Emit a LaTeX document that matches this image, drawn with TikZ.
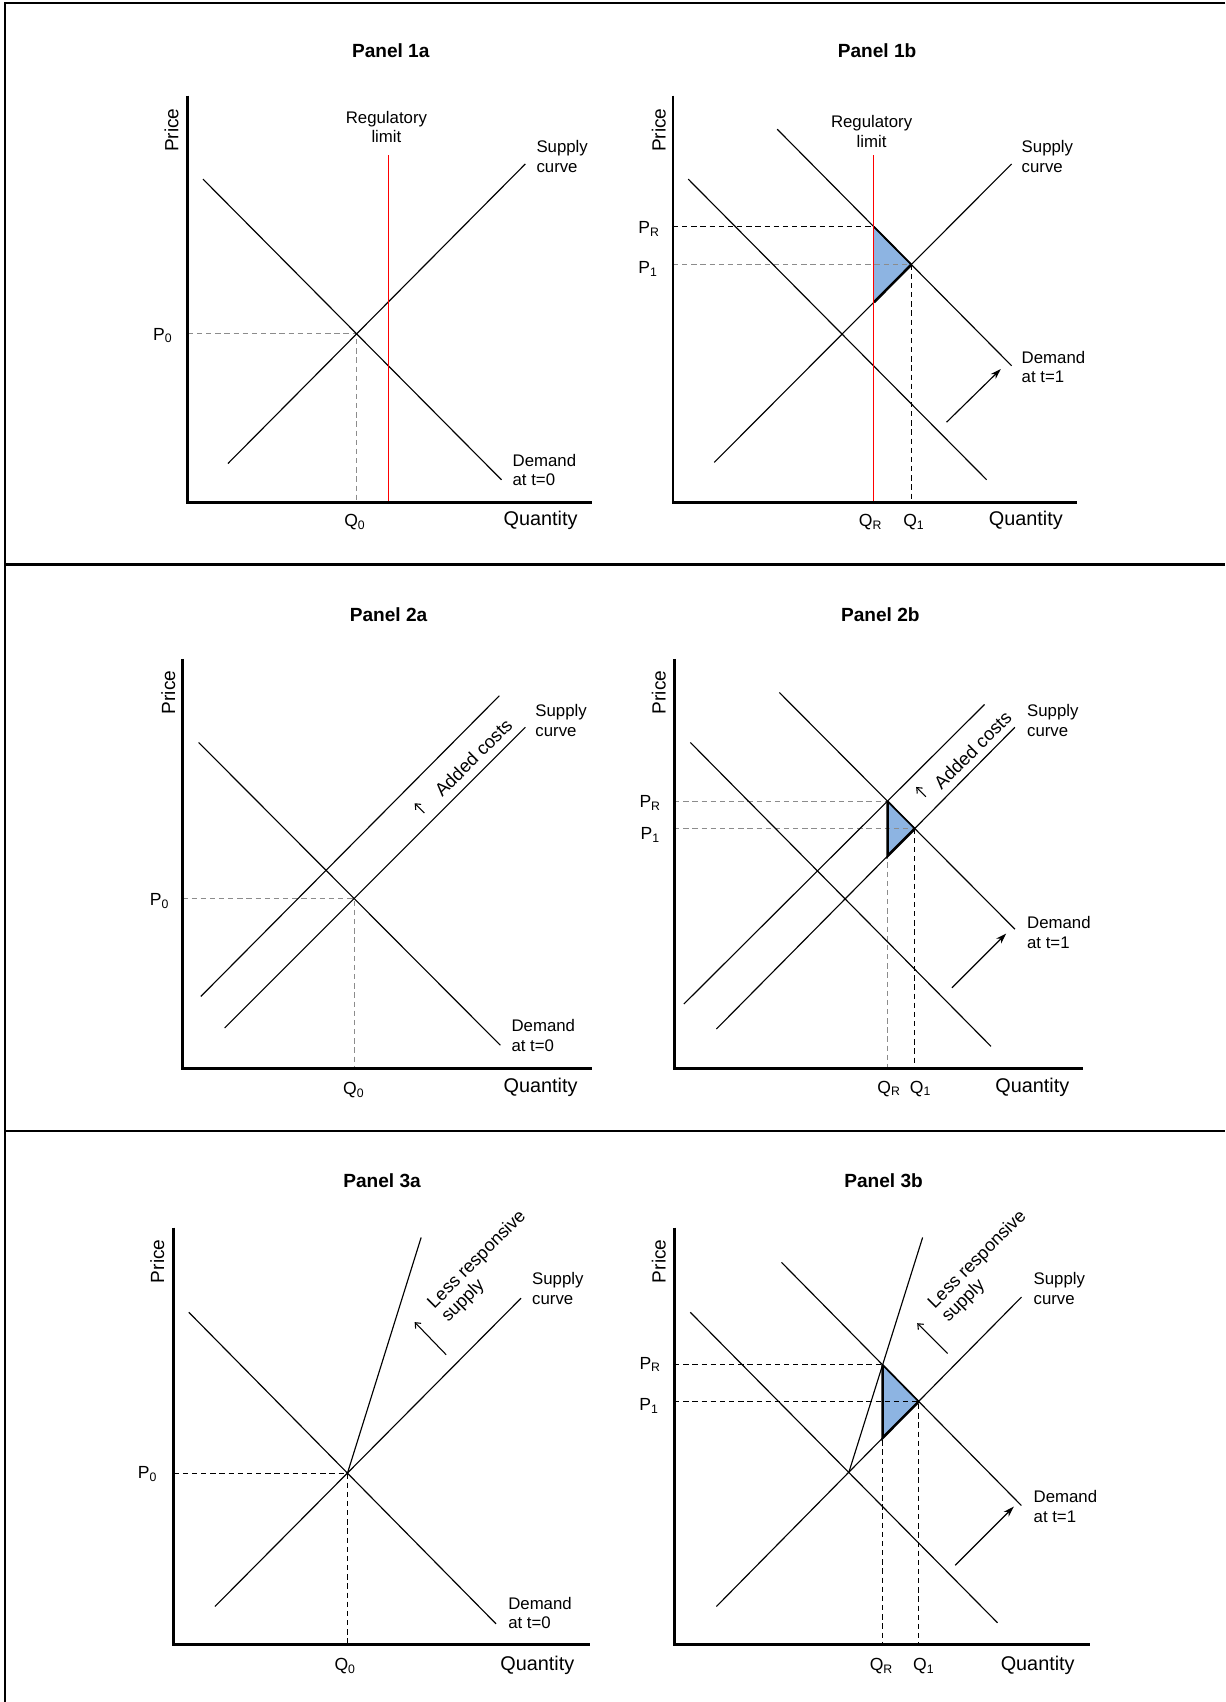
\documentclass[tikz,border=0pt]{standalone}
\usepackage{fontspec}
\setmainfont{Liberation Sans}
\usetikzlibrary{arrows.meta,calc}
\definecolor{tri}{RGB}{141,180,226}
\begin{document}
\begin{tikzpicture}[x=0.025cm,y=-0.025cm,
  curve/.style={line width=0.75pt},
  axisline/.style={line width=1.9pt},
  frameline/.style={line width=1.4pt},
  gdash/.style={draw=black!45,line width=0.6pt,dash pattern=on 3.5pt off 2.5pt},
  kdash/.style={draw=black,line width=0.7pt,dash pattern=on 3.5pt off 2.5pt},
  redline/.style={draw=red,line width=0.8pt},
  thickedge/.style={line width=1.7pt},
  bigarrow/.style={line width=0.75pt,-{Stealth[length=7pt,width=4.5pt]}},
  smallarrow/.style={line width=0.7pt,-{Straight Barb[length=3pt,width=5pt]}},
  ptitle/.style={font=\fontsize{12.5}{14}\selectfont\bfseries,inner sep=0},
  lbl/.style={font=\fontsize{11}{12.8}\selectfont,align=left,anchor=west,inner sep=0},
  clbl/.style={font=\fontsize{11}{12.8}\selectfont,align=center,inner sep=0},
  plbl/.style={font=\fontsize{11.5}{13}\selectfont,inner sep=0},
  qlbl/.style={font=\fontsize{13}{15}\selectfont,inner sep=0},
  pricelbl/.style={font=\fontsize{12.5}{14}\selectfont,rotate=90,inner sep=0},
  rotlbl/.style={font=\fontsize{11.8}{12.8}\selectfont,align=left,rotate=45,inner sep=0}
]
\useasboundingbox (0,0) rectangle (1129,1568);
% frame
\coordinate (fTL) at (5,3); \coordinate (fTR) at (1129,3);
\coordinate (fBL) at (5,1568);
\coordinate (fM1L) at (5,520); \coordinate (fM1R) at (1129,520);
\coordinate (fM2L) at (5,1042); \coordinate (fM2R) at (1129,1042);
\draw[frameline] (fTR) -- (fTL) -- (fBL);
\draw[frameline] (fM1L) -- (fM1R);
\draw[frameline] (fM2L) -- (fM2R);

% ================= Panel 1a
\coordinate (a1O) at (173,463); \coordinate (a1T) at (173,88); \coordinate (a1X) at (545,463);
\coordinate (a1d1) at (187,165); \coordinate (a1d2) at (462,442);
\coordinate (a1s1) at (210,427); \coordinate (a1s2) at (484,151);
\coordinate (a1E) at (intersection of a1d1--a1d2 and a1s1--a1s2);
\coordinate (a1r1) at (358,143); \coordinate (a1r2) at (358,463);
\draw[gdash] (a1E -| a1O) -- (a1E) -- (a1E |- a1O);
\draw[curve] (a1d1) -- (a1d2);
\draw[curve] (a1s1) -- (a1s2);
\draw[redline] (a1r1) -- (a1r2);
\draw[axisline] (a1T) -- (a1O) -- (a1X);
\node[ptitle] (a1title) at (360,47) {Panel 1a};
\node[pricelbl] (a1price) at (158,120) {Price};
\node[clbl] (a1reg) at (356,117) {Regulatory\\limit};
\node[lbl] (a1sup) at (494,144) {Supply\\curve};
\node[lbl] (a1dem) at (472,433) {Demand\\at t=0};
\node[plbl] (a1p0) at (150,309) {P\textsubscript{0}};
\node[plbl] (a1q0) at (327,481) {Q\textsubscript{0}};
\node[qlbl] (a1qty) at (498,479) {Quantity};

% ================= Panel 1b
\coordinate (b1O) at (620,463); \coordinate (b1T) at (620,88); \coordinate (b1X) at (992,463);
\coordinate (b1d01) at (634,165); \coordinate (b1d02) at (909,442);
\coordinate (b1d11) at (716,119); \coordinate (b1d12) at (932,337);
\coordinate (b1s1) at (658,426); \coordinate (b1s2) at (932,151);
\coordinate (b1r1) at (805,143); \coordinate (b1r2) at (805,463);
\coordinate (b1PR) at (intersection of b1r1--b1r2 and b1d11--b1d12);
\coordinate (b1E) at (intersection of b1s1--b1s2 and b1d11--b1d12);
\coordinate (b1LB) at (intersection of b1r1--b1r2 and b1s1--b1s2);
\fill[tri] (b1PR) -- (b1E) -- (b1LB) -- cycle;
\draw[kdash] (b1PR -| b1O) -- (b1PR);
\draw[gdash] (b1E -| b1O) -- (b1E);
\draw[kdash] (b1E) -- (b1E |- b1O);
\draw[curve] (b1d01) -- (b1d02);
\draw[curve] (b1d11) -- (b1d12);
\draw[curve] (b1s1) -- (b1s2);
\draw[line width=1.2pt] (b1PR) -- (b1E);
\draw[thickedge] (b1LB) -- (b1E);
\draw[redline] (b1r1) -- (b1r2);
\draw[axisline] (b1T) -- (b1O) -- (b1X);
\coordinate (b1a1) at (872,389); \coordinate (b1a2) at (922,340);
\draw[bigarrow] (b1a1) -- (b1a2);
\node[ptitle] (b1title) at (808,47) {Panel 1b};
\node[pricelbl] (b1price) at (607,120) {Price};
\node[clbl] (b1reg) at (803,121) {Regulatory\\limit};
\node[lbl] (b1sup) at (941,144) {Supply\\curve};
\node[lbl] (b1dem) at (941,338) {Demand\\at t=1};
\node[plbl] (b1pr) at (598,211) {P\textsubscript{R}};
\node[plbl] (b1p1) at (597,248) {P\textsubscript{1}};
\node[plbl] (b1qr) at (802,481) {Q\textsubscript{R}};
\node[plbl] (b1q1) at (842,481) {Q\textsubscript{1}};
\node[qlbl] (b1qty) at (945,479) {Quantity};

% ================= Panel 2a
\coordinate (a2O) at (168,984); \coordinate (a2T) at (168,607); \coordinate (a2X) at (545,984);
\coordinate (a2d1) at (183,684); \coordinate (a2d2) at (461,963);
\coordinate (a2s1) at (207,947); \coordinate (a2s2) at (484,670);
\coordinate (a2c1) at (185,918); \coordinate (a2c2) at (460,641);
\coordinate (a2E) at (intersection of a2d1--a2d2 and a2s1--a2s2);
\draw[gdash] (a2E -| a2O) -- (a2E) -- (a2E |- a2O);
\draw[curve] (a2d1) -- (a2d2);
\draw[curve] (a2s1) -- (a2s2);
\draw[curve] (a2c1) -- (a2c2);
\draw[axisline] (a2T) -- (a2O) -- (a2X);
\coordinate (a2a1) at (391,749); \coordinate (a2a2) at (382,740);
\draw[smallarrow] (a2a1) -- (a2a2);
\node[ptitle] (a2title) at (358,566) {Panel 2a};
\node[pricelbl] (a2price) at (155,638) {Price};
\node[rotlbl,font=\fontsize{12}{13}\selectfont] (a2add) at (436,698) {Added costs};
\node[lbl] (a2sup) at (493,664) {Supply\\curve};
\node[lbl] (a2dem) at (471,954) {Demand\\at t=0};
\node[plbl] (a2p0) at (147,830) {P\textsubscript{0}};
\node[plbl] (a2q0) at (326,1004) {Q\textsubscript{0}};
\node[qlbl] (a2qty) at (498,1002) {Quantity};

% ================= Panel 2b
\coordinate (b2O) at (621,984); \coordinate (b2T) at (621,607); \coordinate (b2X) at (998,984);
\coordinate (b2d01) at (636,684); \coordinate (b2d02) at (913,964);
\coordinate (b2d11) at (718,638); \coordinate (b2d12) at (935,856);
\coordinate (b2s1) at (660,948); \coordinate (b2s2) at (935,670);
\coordinate (b2c1) at (630,925); \coordinate (b2c2) at (907,649);
\coordinate (b2PR) at (intersection of b2c1--b2c2 and b2d11--b2d12);
\coordinate (b2E) at (intersection of b2s1--b2s2 and b2d11--b2d12);
\coordinate (b2V) at (b2PR |- b2O);
\coordinate (b2LB) at (intersection of b2PR--b2V and b2s1--b2s2);
\fill[tri] (b2PR) -- (b2E) -- (b2LB) -- cycle;
\draw[gdash] (b2PR -| b2O) -- (b2PR) -- (b2V);
\draw[gdash] (b2E -| b2O) -- (b2E);
\draw[kdash] (b2E) -- (b2E |- b2O);
\draw[curve] (b2d01) -- (b2d02);
\draw[curve] (b2d11) -- (b2d12);
\draw[curve] (b2s1) -- (b2s2);
\draw[curve] (b2c1) -- (b2c2);
\draw[line width=1.1pt] (b2PR) -- (b2E);
\draw[thickedge] (b2PR) -- (b2LB) -- (b2E);
\draw[axisline] (b2T) -- (b2O) -- (b2X);
\coordinate (b2a1) at (877,910); \coordinate (b2a2) at (927,860);
\draw[bigarrow] (b2a1) -- (b2a2);
\coordinate (b2s3) at (853,734); \coordinate (b2s4) at (844,725);
\draw[smallarrow] (b2s3) -- (b2s4);
\node[ptitle] (b2title) at (811,566) {Panel 2b};
\node[pricelbl] (b2price) at (607,638) {Price};
\node[rotlbl,font=\fontsize{12}{13}\selectfont] (b2add) at (896,691) {Added costs};
\node[lbl] (b2sup) at (946,664) {Supply\\curve};
\node[lbl] (b2dem) at (946,859) {Demand\\at t=1};
\node[plbl] (b2pr) at (599,740) {P\textsubscript{R}};
\node[plbl] (b2p1) at (599,769) {P\textsubscript{1}};
\node[plbl] (b2qr) at (819,1003) {Q\textsubscript{R}};
\node[plbl] (b2q1) at (848,1003) {Q\textsubscript{1}};
\node[qlbl] (b2qty) at (951,1002) {Quantity};

% ================= Panel 3a
\coordinate (a3O) at (160,1515); \coordinate (a3T) at (160,1131); \coordinate (a3X) at (544,1515);
\coordinate (a3d1) at (174,1209); \coordinate (a3d2) at (457,1496);
\coordinate (a3s1) at (198,1480); \coordinate (a3s2) at (480,1196);
\coordinate (a3E) at (intersection of a3d1--a3d2 and a3s1--a3s2);
\coordinate (a3st) at (388,1140);
\draw[kdash] (a3E -| a3O) -- (a3E) -- (a3E |- a3O);
\draw[curve] (a3d1) -- (a3d2);
\draw[curve] (a3s1) -- (a3s2);
\draw[curve] (a3E) -- (a3st);
\draw[axisline] (a3T) -- (a3O) -- (a3X);
\coordinate (a3a1) at (411,1248); \coordinate (a3a2) at (382,1218);
\draw[smallarrow] (a3a1) -- (a3a2);
\node[ptitle] (a3title) at (352,1088) {Panel 3a};
\node[pricelbl] (a3price) at (145,1162) {Price};
\node[rotlbl] (a3less) at (446,1167) {Less responsive\\supply};
\node[lbl] (a3sup) at (490,1187) {Supply\\curve};
\node[lbl] (a3dem) at (468,1486) {Demand\\at t=0};
\node[plbl] (a3p0) at (136,1358) {P\textsubscript{0}};
\node[plbl] (a3q0) at (318,1535) {Q\textsubscript{0}};
\node[qlbl] (a3qty) at (495,1534) {Quantity};

% ================= Panel 3b
\coordinate (b3O) at (621,1515); \coordinate (b3T) at (621,1131); \coordinate (b3X) at (1004,1515);
\coordinate (b3d01) at (636,1209); \coordinate (b3d02) at (919,1495);
\coordinate (b3d11) at (720,1163); \coordinate (b3d12) at (941,1387);
\coordinate (b3s1) at (660,1480); \coordinate (b3s2) at (941,1195);
\coordinate (b3E0) at (intersection of b3d01--b3d02 and b3s1--b3s2);
\coordinate (b3st) at (850,1140);
\coordinate (b3PR) at (intersection of b3E0--b3st and b3d11--b3d12);
\coordinate (b3E) at (intersection of b3s1--b3s2 and b3d11--b3d12);
\coordinate (b3V) at (b3PR |- b3O);
\coordinate (b3LB) at (intersection of b3PR--b3V and b3s1--b3s2);
\fill[tri] (b3PR) -- (b3E) -- (b3LB) -- cycle;
\draw[kdash] (b3PR -| b3O) -- (b3PR) -- (b3V);
\draw[kdash] (b3E -| b3O) -- (b3E) -- (b3E |- b3O);
\draw[curve] (b3d01) -- (b3d02);
\draw[curve] (b3d11) -- (b3d12);
\draw[curve] (b3s1) -- (b3s2);
\draw[curve] (b3E0) -- (b3st);
\draw[line width=1.1pt] (b3PR) -- (b3E);
\draw[thickedge] (b3PR) -- (b3LB) -- (b3E);
\draw[axisline] (b3T) -- (b3O) -- (b3X);
\coordinate (b3a1) at (880,1442); \coordinate (b3a2) at (934,1388);
\draw[bigarrow] (b3a1) -- (b3a2);
\coordinate (b3s3) at (873,1247); \coordinate (b3s4) at (845,1219);
\draw[smallarrow] (b3s3) -- (b3s4);
\node[ptitle] (b3title) at (814,1088) {Panel 3b};
\node[pricelbl] (b3price) at (607,1162) {Price};
\node[rotlbl] (b3less) at (907,1167) {Less responsive\\supply};
\node[lbl] (b3sup) at (952,1187) {Supply\\curve};
\node[lbl] (b3dem) at (952,1388) {Demand\\at t=1};
\node[plbl] (b3pr) at (599,1257) {P\textsubscript{R}};
\node[plbl] (b3p1) at (598,1295) {P\textsubscript{1}};
\node[plbl] (b3qr) at (812,1535) {Q\textsubscript{R}};
\node[plbl] (b3q1) at (851,1535) {Q\textsubscript{1}};
\node[qlbl] (b3qty) at (956,1534) {Quantity};
\end{tikzpicture}
\end{document}
